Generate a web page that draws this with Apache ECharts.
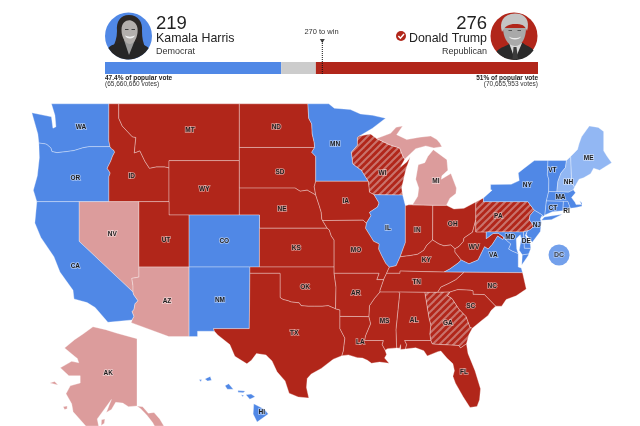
<!DOCTYPE html>
<html><head><meta charset="utf-8">
<style>html,body{margin:0;padding:0;background:#fff;overflow:hidden}#c{width:640px;height:426px}</style>
<script src="https://cdn.jsdelivr.net/npm/echarts@6/dist/echarts.min.js"></script>
</head><body><div id="c"></div>
<script>
// ---- values ----
const CANDIDATES = ['Kamala Harris', 'Donald Trump'];
const PARTIES = ['Democrat', 'Republican'];
const ELECTORAL = [219, 276];
const TOTAL_VOTES = 538;
const TO_WIN = 270;
const POPULAR_PCT = ['47.4% of popular vote', '51% of popular vote'];
const POPULAR_VOTES = ['(65,660,660 votes)', '(70,665,953 votes)'];

const REP_WON = ['MT','ID','WY','UT','ND','SD','NE','KS','OK','TX','IA','MO','AR','LA','MS','AL','TN','KY','IN','OH','WV','NC','SC','FL'];
const REP_LEADING = ['NV','AZ','MI','AK'];
const REP_FLIPPED = ['WI','PA','GA'];
const DEM_WON = ['WA','OR','CA','CO','NM','MN','IL','NY','VT','MA','CT','RI','NJ','DE','MD','VA','HI'];
const DEM_LEADING = ['ME','NH'];
const DC_BUBBLE = [-72.24, 37.94];

const COL = {dem:'#5088E6', demLight:'#92B7F3', rep:'#B1261A', repLight:'#DC9C9C', none:'#CCCCCC'};

// label anchor [lon, lat]
const LABEL_AT = {WA:[-119.8,47.36],OR:[-120.37,43.7],ID:[-114.76,43.87],MT:[-108.96,47.15],WY:[-107.54,42.92],ND:[-100.37,47.4],SD:[-100,44.15],NE:[-99.8,41.47],NV:[-116.69,39.53],UT:[-111.35,39.05],CO:[-105.55,38.97],KS:[-98.38,38.46],CA:[-120.37,37.03],AZ:[-111.25,34.3],NM:[-105.98,34.35],OK:[-97.5,35.4],TX:[-98.6,31.65],AK:[-151.1,64.84],HI:[-155.5,19.6],MN:[-94.53,46.2],WI:[-89.8,44.1],IA:[-93.47,42],IL:[-89.26,40],IN:[-86.34,39.87],OH:[-82.82,40.3],MI:[-84.5,43.5],MO:[-92.44,38.3],KY:[-85.45,37.55],WV:[-80.7,38.57],VA:[-78.78,37.94],PA:[-78.28,40.92],NY:[-75.4,43.2],VT:[-72.9,44.3],NH:[-71.3,43.4],ME:[-69.3,45.2],MA:[-72.1,42.3],CT:[-72.85,41.5],RI:[-71.5,41.3],NJ:[-74.45,40.2],DE:[-75.5,39],MD:[-77.1,39.35],TN:[-86.4,35.8],NC:[-78.88,35.45],SC:[-81.03,33.85],GA:[-83.3,32.45],AL:[-86.67,32.7],MS:[-89.6,32.6],LA:[-92,30.85],AR:[-92.47,34.9],FL:[-81.7,28.28]};

// ---- state outlines as shared lon/lat borders ----
const B = {
WA_N:'-122.75,49 -117.03,49',
WA_ID:'-117.03,49 -117.04,46.42 -116.92,46',
WA_OR:'-116.92,46 -118.98,46 -119,45.93 -119.6,45.92 -120.5,45.72 -121.2,45.65 -122.2,45.57 -122.7,45.65 -122.8,45.9 -123.2,46.15 -123.4,46.2 -124,46.25',
WA_C:'-124,46.25 -124.1,46.9 -124.7,48.38 -123.1,48.15 -122.75,48.1 -122.6,47.3 -122.3,47.4 -122.4,48.2 -122.75,49',
OR_C:'-124,46.25 -123.95,45.2 -124.15,43.9 -124.55,42.85 -124.2,42',
OR_CA:'-124.2,42 -120,42',
OR_NV:'-120,42 -117.03,42',
OR_ID:'-117.03,42 -117.03,43.83 -116.9,44.1 -117.2,44.45 -116.85,44.95 -116.67,45.32 -116.46,45.6 -116.55,45.75 -116.78,45.85 -116.92,46',
ID_N:'-117.03,49 -116.05,49',
ID_MT:'-116.05,49 -116.05,48 -115.7,47.45 -114.7,46.7 -114.35,46.65 -114.5,45.55 -113.95,45.7 -113.45,44.95 -113,44.45 -112.3,44.55 -111.5,44.55 -111.05,44.48',
ID_WY:'-111.05,44.48 -111.05,42',
ID_UT:'-111.05,42 -114.04,42',
ID_NV:'-114.04,42 -117.03,42',
MT_N:'-116.05,49 -104.05,49',
MT_ND:'-104.05,49 -104.05,45.94',
MT_SD:'-104.05,45.94 -104.05,45',
MT_WY:'-104.05,45 -111.05,45 -111.05,44.48',
ND_N:'-104.05,49 -97.23,49',
ND_MN:'-97.23,49 -97.15,48 -96.85,47.6 -96.8,46.9 -96.6,46.3 -96.56,45.94',
ND_SD:'-96.56,45.94 -104.05,45.94',
SD_MN:'-96.56,45.94 -96.85,45.6 -96.45,45.3 -96.45,43.5',
SD_IA:'-96.45,43.5 -96.6,43.1 -96.45,42.49',
SD_NE:'-96.45,42.49 -97.3,42.85 -98,42.77 -98.5,43 -104.05,43',
SD_WY:'-104.05,43 -104.05,45',
WY_UT:'-111.05,42 -111.05,41 -109.05,41',
WY_CO:'-109.05,41 -104.05,41',
WY_NE:'-104.05,41 -104.05,43',
NE_IA:'-96.45,42.49 -96.1,41.7 -95.9,41.2 -95.85,40.7 -95.77,40.58',
NE_MO:'-95.77,40.58 -95.31,40',
NE_KS:'-95.31,40 -102.05,40',
NE_CO:'-102.05,40 -102.05,41 -104.05,41',
MN_IA:'-96.45,43.5 -91.22,43.5',
IA_WI:'-91.22,43.5 -91.1,42.7 -90.64,42.51',
IA_IL:'-90.64,42.51 -90.15,41.9 -90.3,41.6 -91.1,41.2 -90.95,40.95 -91.42,40.38',
IA_MO:'-91.42,40.38 -91.73,40.61 -95.77,40.58',
MN_N:'-97.23,49 -95.15,49 -94.6,48.7 -93,48.6 -92,48.3 -90.8,48.2 -89.5,48 -90.8,47.3 -92.1,46.75',
MN_WI:'-92.1,46.75 -92.3,46.65 -92.3,46.1 -92.9,45.6 -92.75,44.75 -91.9,44.3 -91.22,43.5',
WI_N:'-92.1,46.75 -91,46.9 -90.4,46.57',
WI_MI:'-90.4,46.57 -89.1,46.13 -88.1,45.9 -87.8,45.35 -87.6,45.1',
WI_C:'-87.6,45.1 -88,44.55 -87.4,44.9 -87.05,45.25 -87.5,44.3 -87.9,43 -87.8,42.49',
WI_IL:'-87.8,42.49 -90.64,42.51',
IL_C:'-87.8,42.49 -87.53,41.7',
IL_IN:'-87.53,41.7 -87.53,38.9 -88.05,37.8',
IL_KY:'-88.05,37.8 -88.45,37.1 -89.13,36.98',
IL_MO:'-89.13,36.98 -89.5,37.3 -89.9,37.9 -90.2,38.4 -90.15,38.8 -90.7,39 -91.5,40 -91.42,40.38',
IN_C:'-87.53,41.7 -87.2,41.76 -86.82,41.76',
IN_MI:'-86.82,41.76 -84.8,41.73',
IN_OH:'-84.8,41.73 -84.82,39.1',
IN_KY:'-84.82,39.1 -85.4,38.7 -85.7,38.3 -86.3,38 -87,37.9 -88.05,37.8',
OH_MI:'-84.8,41.73 -83.45,41.73',
OH_C:'-83.45,41.73 -82.7,41.45 -81.7,41.5 -80.52,41.98',
OH_PA:'-80.52,41.98 -80.52,40.64',
OH_WV:'-80.52,40.64 -80.85,39.7 -81.7,39.25 -81.75,39 -82.2,38.6 -82.59,38.42',
OH_KY:'-82.59,38.42 -83,38.72 -83.7,38.65 -84.2,38.8 -84.82,39.1',
KY_MO:'-89.13,36.98 -89.4,36.5',
KY_TN:'-89.4,36.5 -88.06,36.5 -88.06,36.68 -83.68,36.6',
KY_VA:'-83.68,36.6 -83.1,36.85 -82.3,37.3 -81.97,37.54',
KY_WV:'-81.97,37.54 -82.6,38.17 -82.59,38.42',
MO_TN:'-89.4,36.5 -89.7,36',
MO_AR:'-89.7,36 -90.38,36 -90.15,36.5 -94.62,36.5',
MO_OK:'-94.62,36.5 -94.62,37',
MO_KS:'-94.62,37 -94.62,39.1 -94.9,39.4 -95.1,39.87 -95.31,40',
KS_OK:'-94.62,37 -102.05,37',
KS_CO:'-102.05,37 -102.05,40',
CO_UT:'-109.05,41 -109.05,37',
CO_NM:'-109.05,37 -103,37',
CO_OK:'-103,37 -102.05,37',
NV_UT:'-114.04,42 -114.04,37',
UT_AZ:'-114.04,37 -109.05,37',
NV_AZ:'-114.04,37 -114.04,36.2 -114.75,36.1 -114.63,35.5 -114.63,35',
NV_CA:'-114.63,35 -120,39 -120,42',
CA_AZ:'-114.63,35 -114.57,34.8 -114.14,34.3 -114.43,34.05 -114.53,33.6 -114.72,33.4 -114.53,33.03 -114.72,32.72',
CA_MX:'-114.72,32.72 -117.13,32.53',
CA_C:'-117.13,32.53 -118.4,33.75 -119.2,34.15 -120.5,34.45 -120.6,35.15 -121.9,36.6 -122.5,37.8 -123.8,39.3 -124.4,40.4 -124.2,42',
AZ_MX:'-114.72,32.72 -114.81,32.5 -111.07,31.33 -109.05,31.33',
AZ_NM:'-109.05,31.33 -109.05,37',
NM_MX:'-109.05,31.33 -108.21,31.33 -108.21,31.78 -106.53,31.78',
NM_TX:'-106.53,31.78 -106.62,32 -103.06,32 -103,36.5',
NM_OK:'-103,36.5 -103,37',
OK_AR:'-94.62,36.5 -94.43,35.4 -94.48,33.64',
OK_TX:'-94.48,33.64 -95.2,33.9 -95.8,33.85 -96.6,33.85 -97.2,33.85 -97.9,33.9 -98.1,34.13 -98.9,34.2 -99.2,34.3 -99.7,34.4 -100,34.56 -100,36.5 -103,36.5',
TX_MX:'-106.53,31.78 -106.2,31.47 -105,30.65 -104.5,29.65 -103.3,29 -102.85,29.3 -102.35,29.88 -101.4,29.77 -100.8,29.25 -100.3,28.3 -99.5,27.5 -99.1,26.4 -98.2,26.06 -97.14,25.96',
TX_C:'-97.14,25.96 -97.37,26.9 -97.3,27.7 -96.9,28.1 -95.9,28.6 -95,29.2 -94.7,29.4 -93.85,29.7',
TX_LA:'-93.85,29.7 -93.7,30.1 -93.55,31.2 -94.04,32 -94.04,33.02',
TX_AR:'-94.04,33.02 -94.04,33.55 -94.48,33.64',
AR_TN:'-89.7,36 -90.07,35.13 -90.07,35',
AR_MS:'-90.07,35 -90.6,34.5 -91.1,33.9 -91.17,33',
AR_LA:'-91.17,33 -94.04,33.02',
LA_MS:'-91.17,33 -91,32.4 -91.5,31.4 -91.6,31 -89.73,31 -89.85,30.65 -89.55,30.18',
LA_C:'-89.55,30.18 -89.4,29.8 -89.6,29.5 -89.15,29.05 -90.1,29.15 -90.9,29.05 -91.3,29.3 -91.8,29.5 -92.3,29.53 -93.2,29.77 -93.85,29.7',
MS_TN:'-90.07,35 -88.2,35',
MS_AL:'-88.2,35 -88.1,34.9 -88.47,31.9 -88.4,30.37',
MS_C:'-88.4,30.37 -89.3,30.3 -89.55,30.18',
AL_TN:'-88.2,35 -85.6,34.98',
AL_GA:'-85.6,34.98 -85.18,32.87 -85,32.3 -85.1,31.55 -85,31',
AL_FL:'-85,31 -87.6,31 -87.4,30.65 -87.52,30.28',
AL_C:'-87.52,30.28 -88,30.23 -88,30.65 -88.1,30.35 -88.4,30.37',
TN_VA:'-83.68,36.6 -81.68,36.59',
TN_NC:'-81.68,36.59 -82.5,36 -83.2,35.7 -84,35.4 -84.32,34.98',
TN_GA:'-84.32,34.98 -85.6,34.98',
GA_NC:'-84.32,34.98 -83.11,35',
GA_SC:'-83.11,35 -83.35,34.7 -82.9,34.48 -82.2,33.6 -81.5,33 -81.1,32.1 -80.87,32.03',
GA_C:'-80.87,32.03 -81.2,31.5 -81.45,30.72',
GA_FL:'-81.45,30.72 -82.05,30.36 -82.2,30.57 -84.86,30.7 -85,31',
FL_C:'-81.45,30.72 -81.3,29.9 -80.6,28.4 -80.05,26.8 -80.15,25.8 -80.4,25.2 -81.1,25.1 -81.8,26.1 -82.55,27.3 -82.8,27.9 -82.65,28.4 -82.8,29 -83.4,29.5 -84,30.1 -84.3,30.05 -85.35,29.68 -85.7,30.13 -86.5,30.38 -87.52,30.28',
SC_NC:'-83.11,35 -82.3,35.2 -81.05,35.15 -80.8,35.1 -80.8,34.82 -79.67,34.8 -78.55,33.86',
SC_C:'-78.55,33.86 -79,33.5 -79.3,33.1 -79.9,32.7 -80.87,32.03',
NC_VA:'-81.68,36.59 -75.87,36.55',
NC_C:'-75.87,36.55 -75.5,35.25 -76.5,34.7 -77.5,34.4 -77.95,33.85 -78.55,33.86',
VA_C:'-75.87,36.55 -76,36.93 -76.3,37 -76.3,37.6 -76.3,38.05',
VA_MD:'-76.3,38.05 -76.9,38.25 -77.25,38.4 -77.04,38.8 -77.5,39.1 -77.73,39.32',
VA_WV:'-77.73,39.32 -77.83,39.13 -78.35,39.4 -78.87,38.77 -79.3,38.4 -79.65,38.58 -80.3,37.55 -81.2,37.25 -81.97,37.54',
WV_PA:'-80.52,40.64 -80.52,39.72',
WV_PA2:'-80.52,39.72 -79.48,39.72',
WV_MD:'-79.48,39.72 -79.48,39.2 -78.8,39.6 -78.3,39.62 -77.73,39.32',
MD_PA:'-79.48,39.72 -75.79,39.72',
MD_DE:'-75.79,39.72 -75.7,38.46 -75.05,38.45',
MD_C:'-75.05,38.45 -75.25,38.03 -75.9,37.95 -76.2,38.3 -76,39.2 -76.1,39.5 -76.5,39.2 -76.45,38.4 -76.3,38.05',
DE_PA:'-75.79,39.72 -75.4,39.8',
DE_C:'-75.4,39.8 -75.6,39.45 -75.1,38.8 -75.05,38.45',
PA_C:'-80.52,41.98 -79.76,42.27',
PA_NY:'-79.76,42.27 -79.76,42 -75.35,42 -74.7,41.36',
PA_NJ:'-74.7,41.36 -75.13,40.97 -75.2,40.65 -74.72,40.15 -75.13,39.88 -75.4,39.8',
NJ_NY:'-74.7,41.36 -73.9,41',
NJ_C:'-73.9,41 -74.1,40.7 -74,40.45 -74.1,39.75 -74.9,38.93 -75.5,39.5 -75.4,39.8',
NY_N:'-79.76,42.27 -78.9,42.85 -79.05,42.9 -79.05,43.26 -77,43.28 -76.2,43.55 -76.3,44.1 -75.8,44.4 -74.7,45 -73.34,45.01',
NY_VT:'-73.34,45.01 -73.4,44 -73.25,43.6 -73.27,42.75',
NY_MA:'-73.27,42.75 -73.5,42.05',
NY_CT:'-73.5,42.05 -73.65,41',
NY_C:'-73.65,41 -73.9,40.85 -73.9,41',
VT_N:'-73.34,45.01 -71.5,45.01',
VT_NH:'-71.5,45.01 -71.6,44.5 -72.05,44.1 -72.35,43.5 -72.46,42.73',
VT_MA:'-72.46,42.73 -73.27,42.75',
NH_N:'-71.5,45.01 -71.08,45.3',
NH_ME:'-71.08,45.3 -70.98,43.4 -70.7,43.07',
NH_C:'-70.7,43.07 -70.82,42.87',
NH_MA:'-70.82,42.87 -71.3,42.7 -72.46,42.73',
ME_C:'-71.08,45.3 -70.4,45.8 -70.25,46.2 -70,46.7 -69.23,47.46 -68.33,47.36 -67.8,47.07 -67.8,45.7 -67.45,45.3 -67,44.85 -68.2,44.3 -68.8,44.45 -69.1,44.05 -69.8,43.75 -70.25,43.65 -70.7,43.07',
MA_C:'-70.82,42.87 -70.6,42.65 -71,42.3 -70.65,41.95 -70.55,41.78 -70,41.78 -70.2,42.07 -69.95,41.9 -69.97,41.65 -70.65,41.55 -71.12,41.5',
MA_RI:'-71.12,41.5 -71.38,42.02 -71.8,42.02',
MA_CT:'-71.8,42.02 -73.5,42.05',
RI_C:'-71.12,41.5 -71.4,41.45 -71.86,41.32',
RI_CT:'-71.86,41.32 -71.8,42.02',
CT_C:'-71.86,41.32 -72.9,41.25 -73.65,41'
};
const RINGS = {
WA:['WA_N','WA_ID','WA_OR','WA_C'],
OR:['OR_C','OR_CA','OR_NV','OR_ID','WA_OR'],
ID:['ID_N','ID_MT','ID_WY','ID_UT','ID_NV','OR_ID','-WA_ID'],
MT:['MT_N','MT_ND','MT_SD','MT_WY','-ID_MT'],
ND:['ND_N','ND_MN','ND_SD','-MT_ND'],
SD:['-ND_SD','SD_MN','SD_IA','SD_NE','SD_WY','-MT_SD'],
WY:['MT_WY','ID_WY','WY_UT','WY_CO','WY_NE','SD_WY'],
NE:['-SD_NE','NE_IA','NE_MO','NE_KS','NE_CO','WY_NE'],
IA:['MN_IA','IA_WI','IA_IL','IA_MO','-NE_IA','-SD_IA'],
MN:['MN_N','MN_WI','-MN_IA','-SD_MN','-ND_MN'],
WI:['WI_N','WI_MI','WI_C','WI_IL','-IA_WI','-MN_WI'],
IL:['-WI_IL','IL_C','IL_IN','IL_KY','IL_MO','-IA_IL'],
IN:['IN_C','IN_MI','IN_OH','IN_KY','-IL_IN'],
OH:['OH_MI','OH_C','OH_PA','OH_WV','OH_KY','-IN_OH'],
KY:['OH_KY','IN_KY','IL_KY','KY_MO','KY_TN','KY_VA','KY_WV'],
MO:['-IA_MO','-IL_MO','KY_MO','MO_TN','MO_AR','MO_OK','MO_KS','-NE_MO'],
KS:['-NE_KS','-MO_KS','KS_OK','KS_CO'],
CO:['-WY_CO','CO_UT','CO_NM','CO_OK','KS_CO','NE_CO'],
UT:['ID_UT','NV_UT','UT_AZ','-CO_UT','-WY_UT'],
NV:['-ID_NV','NV_UT','NV_AZ','NV_CA','OR_NV'],
CA:['OR_CA','-NV_CA','CA_AZ','CA_MX','CA_C'],
AZ:['-UT_AZ','NV_AZ','CA_AZ','AZ_MX','AZ_NM'],
NM:['-AZ_NM','NM_MX','NM_TX','NM_OK','-CO_NM'],
OK:['CO_OK','-KS_OK','-MO_OK','OK_AR','OK_TX','NM_OK'],
TX:['-NM_TX','TX_MX','TX_C','TX_LA','TX_AR','OK_TX'],
AR:['-MO_AR','AR_TN','AR_MS','AR_LA','TX_AR','-OK_AR'],
LA:['-AR_LA','LA_MS','LA_C','TX_LA'],
MS:['-AR_MS','MS_TN','MS_AL','MS_C','-LA_MS'],
AL:['AL_TN','AL_GA','AL_FL','AL_C','-MS_AL'],
TN:['KY_TN','TN_VA','TN_NC','TN_GA','-AL_TN','-MS_TN','-AR_TN','-MO_TN'],
GA:['-TN_GA','GA_NC','GA_SC','GA_C','GA_FL','-AL_GA'],
FL:['-GA_FL','FL_C','-AL_FL'],
SC:['-GA_SC','SC_NC','SC_C'],
NC:['-GA_NC','-TN_NC','NC_VA','NC_C','-SC_NC'],
VA:['TN_VA','NC_VA','VA_C','VA_MD','VA_WV','-KY_VA'],
WV:['WV_PA','WV_PA2','WV_MD','VA_WV','KY_WV','-OH_WV'],
MD:['MD_PA','MD_DE','MD_C','VA_MD','-WV_MD'],
DE:['DE_PA','DE_C','-MD_DE'],
PA:['PA_C','PA_NY','PA_NJ','-DE_PA','-MD_PA','-WV_PA2','-WV_PA','-OH_PA'],
NJ:['-PA_NJ','NJ_NY','NJ_C'],
NY:['-PA_NY','NY_N','NY_VT','NY_MA','NY_CT','NY_C','-NJ_NY'],
VT:['VT_N','VT_NH','VT_MA','-NY_VT'],
NH:['-VT_NH','NH_N','NH_ME','NH_C','NH_MA'],
ME:['ME_C','-NH_ME'],
MA:['-NH_MA','MA_C','MA_RI','MA_CT','-NY_MA','-VT_MA'],
RI:['-MA_RI','RI_C','RI_CT'],
CT:['-MA_CT','-RI_CT','CT_C','-NY_CT']
};
// Michigan's two peninsulas, islands, Alaska and Hawaii are free-standing rings
const EXTRA = {
MI:['-83.45,41.73 -83.1,42.25 -82.5,42.6 -82.45,43 -83,44.07 -83.95,43.65 -83.9,43.9 -83.3,44.3 -83.4,45.07 -84.75,45.78 -85.3,45.3 -85.6,44.85 -86.25,44.7 -86.5,43.65 -86.2,43 -86.3,42.4 -86.82,41.76 -84.8,41.73',
    '-90.4,46.57 -89,46.95 -88.45,47.37 -87.8,47.45 -88.4,46.85 -87.4,46.5 -86.1,46.67 -85,46.75 -84.4,46.5 -84.1,46.25 -83.9,46 -84.7,45.9 -85.5,46.05 -86.5,45.85 -87.6,45.1 -87.8,45.35 -88.1,45.9 -89.1,46.13'],
NY:['-74,40.6 -73,40.65 -71.9,41.05 -72.6,40.98 -73.7,40.85'],
VA:['-75.95,37.15 -75.3,37.9 -75.25,38.03 -75.9,37.95'],
AK:['-141,69.65 -148,70.4 -152,70.9 -156.5,71.3 -160,70.3 -163,69.5 -166.5,68.35 -163,67.2 -162,66.9 -161.5,66.3 -164,66.5 -168,65.6 -165,64.5 -161,64.5 -161,63.5 -164.5,63.1 -166,62 -164,60.6 -163.5,59.5 -159,57.5 -154.5,57.5 -155,58.5 -150,61.2 -151.8,59.4 -150,59.8 -148.5,60.8 -146,60.7 -144,60.2 -141,60.3 -139.7,59.9 -137.5,59 -135.5,58 -134.8,57.5 -131.5,57.5 -133,58.5 -135,59.4 -137,59.3 -139,60.2 -141,60.3',
    '-171.7,63.5 -168.8,63.2 -170,63.7','-167,60.2 -165.6,60.3 -165.6,59.9 -166.5,59.8','-153.5,58.4 -152.3,58.5 -152.5,57.9 -153.6,57.6'],
HI:['-156.1,20.25 -155.3,19.85 -155,19.5 -155.85,18.92 -156.15,19.5','-156.7,20.9 -156.3,20.95 -156,20.75 -156.4,20.58','-157.3,21.2 -156.75,21.17 -156.9,21.05 -157.3,21.08','-157.05,20.9 -156.85,20.85 -156.95,20.75','-158.28,21.55 -158,21.7 -157.65,21.3 -158.1,21.3','-159.8,22.05 -159.4,22.23 -159.3,21.95 -159.6,21.9','-160.25,21.98 -160.05,22 -160.1,21.85']
};

const parse = s => s.trim().split(/\s+/).map(t => t.split(',').map(Number));
const ring = toks => { const out = []; toks.forEach(t => { const rev = t[0] === '-'; const a = parse(B[rev ? t.slice(1) : t]); if (rev) a.reverse(); out.push(...a); }); out.push(out[0].slice()); return out; };
const closed = s => { const a = parse(s); a.push(a[0].slice()); return a; };
const ALL = Object.keys(LABEL_AT);
const features = ALL.map(code => {
  const polys = [];
  if (RINGS[code]) polys.push([ring(RINGS[code])]);
  (EXTRA[code] || []).forEach(s => polys.push([closed(s)]));
  return {type:'Feature', properties:{name:code, cp:LABEL_AT[code]}, geometry:{type:'MultiPolygon', coordinates:polys}};
});
echarts.registerMap('USA', {type:'FeatureCollection', features});

// Lower 48 on the reference's near-cylindrical scale; Alaska and Hawaii as insets
const project = ([lon, lat]) => {
  if (lat > 50) return [137 + 2.84 * (lon + 141), 339 + 7.2 * (69.6 - lat)];
  if (lat < 24 && lon < -150) return [261.7 + 13.2 * (lon + 155.5), 412.7 + 13.8 * (19.6 - lat)];
  const d = lat - 39;
  return [169 + 10.05 * (lon + 111.05), 241.3 - (13 * d + 0.075 * d * d)];
};
const unproject = ([x, y]) => [(x - 169) / 10.05 - 111.05, 39 + (241.3 - y) / 13];
let x0 = 1e9, x1 = -1e9, y0 = 1e9, y1 = -1e9;
features.forEach(f => f.geometry.coordinates.forEach(p => p[0].forEach(c => { const [x, y] = project(c); x0 = Math.min(x0, x); x1 = Math.max(x1, x); y0 = Math.min(y0, y); y1 = Math.max(y1, y); })));

// hatch for states flipped to the Republicans
const tile = document.createElement('canvas'); tile.width = tile.height = 7;
(() => { const g = tile.getContext('2d'); g.fillStyle = COL.rep; g.fillRect(0,0,7,7); g.strokeStyle = '#C9736C'; g.lineWidth = 2; [[-3.5,3.5,3.5,-3.5],[0,7,7,0],[3.5,10.5,10.5,3.5]].forEach(l => { g.beginPath(); g.moveTo(l[0],l[1]); g.lineTo(l[2],l[3]); g.stroke(); }); })();

const fillFor = c => REP_WON.includes(c) ? COL.rep : REP_LEADING.includes(c) ? COL.repLight : REP_FLIPPED.includes(c) ? {image: tile, repeat: 'repeat'} : DEM_LEADING.includes(c) ? COL.demLight : COL.dem;
const LABEL = {show:true, fontFamily:'"Liberation Sans"', fontSize:6.5, fontWeight:'bold', color:'#1c1c1c', textBorderColor:'rgba(255,255,255,.5)', textBorderWidth:1.6};
const regions = ALL.map(code => ({name:code, itemStyle:{areaColor:fillFor(code), borderColor:'rgba(255,255,255,.55)', borderWidth:.6}, label:LABEL}));

const F = '"Liberation Sans"';
const txt = (x, y, t, size, align, weight, color) => ({type:'text', silent:true, style:{x, y:y + 0.21 * size, text:t, font:`${weight||'normal'} ${size}px ${F}`, fill:color||'#222', align:align||'left', verticalAlign:'bottom', lineHeight:size}});
let pathNo = 0;
const shape = (d, fill) => { const name = 'portrait' + (pathNo++); echarts.graphic.registerShape(name, echarts.graphic.extendPath(d, {})); return {type:name, silent:true, style:{fill}}; };
const disc = (cx, cy, r, fill) => ({type:'circle', silent:true, shape:{cx, cy, r}, style:{fill}});

const option = {
  animation:false, backgroundColor:'#fff',
  geo:{map:'USA', roam:false, silent:true, projection:{project, unproject},
       layoutCenter:[(x0+x1)/2,(y0+y1)/2], layoutSize:Math.max(x1-x0,y1-y0),
       itemStyle:{areaColor:COL.dem, borderColor:'rgba(255,255,255,.55)', borderWidth:.6}, label:LABEL, regions},
  grid:[{left:105,width:433,top:62,height:12},{left:105,width:433,top:41,height:33}],
  xAxis:[{type:'value',min:0,max:TOTAL_VOTES,show:false,gridIndex:0},{type:'value',min:0,max:TOTAL_VOTES,show:false,gridIndex:1}],
  yAxis:[{type:'category',data:['votes'],show:false,gridIndex:0},{type:'value',min:0,max:1,show:false,gridIndex:1}],
  series:[
    {type:'bar',stack:'v',barWidth:'100%',data:[ELECTORAL[0]],itemStyle:{color:COL.dem},silent:true},
    {type:'bar',stack:'v',barWidth:'100%',data:[TOTAL_VOTES-ELECTORAL[0]-ELECTORAL[1]],itemStyle:{color:COL.none},silent:true},
    {type:'bar',stack:'v',barWidth:'100%',data:[ELECTORAL[1]],itemStyle:{color:COL.rep},silent:true},
    {type:'line',xAxisIndex:1,yAxisIndex:1,data:[[TO_WIN,1],[TO_WIN,0]],symbol:'none',lineStyle:{color:'#111',width:1,type:[1,1]},z:5,silent:true},
    {type:'scatter',xAxisIndex:1,yAxisIndex:1,data:[[TO_WIN,1]],symbol:'triangle',symbolRotate:180,symbolSize:[5,4],itemStyle:{color:'#111'},z:6,silent:true},
    {type:'scatter',coordinateSystem:'geo',data:[{name:'DC',value:DC_BUBBLE}],symbol:'circle',symbolSize:21,itemStyle:{color:COL.dem},silent:true,z:4,
     label:Object.assign({},LABEL,{show:true,position:'inside',formatter:'{b}',fontSize:7})}
  ],
  graphic:{elements:[
    // Harris portrait
    disc(128.5,36,23.5,COL.dem),
    shape('M129 15C120 15 116 22 117 31C117 38 115 43 112 49L146 49C143 43 142 38 142 31C143 22 138 15 129 15Z','#2b2725'),
    shape('M108.3 48C112 43 120 44 124 41L135 41C138 44 145 44 148.7 48A23.5 23.5 0 0 1 108.3 48Z','#262626'),
    shape('M124 40L129 55L135 40Z','#9a9a9a'),
    shape('M121.5 30C121.5 22 127 19.5 131 20.5C136 22 138.5 27 137.5 33C136.5 40 133 44 130 44C126 44 121.5 38 121.5 30Z','#b3afac'),
    shape('M125 35.5C128 37 132 37 135 35.5C133.5 39.5 126.5 39.5 125 35.5Z','#f0f0f0'),
    shape('M125 29H128.5V30H125ZM131.5 29H135V30H131.5Z','#444'),
    // Trump portrait
    disc(514,36,23.5,COL.rep),
    shape('M496.5 51.5C500 47 508 46 510 43L523 43C526 46 532 47 533.5 50.5A23.5 23.5 0 0 1 496.5 51.5Z','#2a2a2a'),
    shape('M509 43L515 59.5L522 43Z','#d8d8d8'),
    shape('M513.5 47L516.5 47L518 59L512.5 59Z','#3b3b3b'),
    shape('M503 28C503 36 507 46 515 46C522 46 526 38 526 28Z','#a9a9a9'),
    shape('M502 32C499 22 503 14 515 13.5C526 13.5 530 21 527 31C525 25 522 24 515 24C509 24 505 26 502 32Z','#c4c4c4'),
    shape('M509 36.5C512 38.5 518 38.5 521 36.5C520 40.5 510 40.5 509 36.5Z','#ececec'),
    shape('M508.5 30H512V31H508.5ZM517.5 30H521V31H517.5Z','#555'),
    // texts
    txt(156,29,String(ELECTORAL[0]),18.5),
    txt(156,42,CANDIDATES[0],12.4),
    txt(156,54.5,PARTIES[0],9,'left','normal','#333'),
    txt(487,29,String(ELECTORAL[1]),18.5,'right'),
    txt(487,42,CANDIDATES[1],12.4,'right'),
    txt(487,54.5,PARTIES[1],9,'right','normal','#333'),
    disc(401,36,5,COL.rep),
    {type:'polyline',silent:true,shape:{points:[[398.4,36],[400.4,38.2],[404,34]]},style:{stroke:'#fff',lineWidth:1.5,fill:null}},
    txt(321.5,34,'270 to win',7.5,'center','normal','#333'),
    txt(105,80,POPULAR_PCT[0],6.5,'left','bold','#222'),
    txt(105,86,POPULAR_VOTES[0],6.5,'left','normal','#333'),
    txt(538,80,POPULAR_PCT[1],6.5,'right','bold','#222'),
    txt(538,86,POPULAR_VOTES[1],6.5,'right','normal','#333')
  ]}
};
echarts.init(document.getElementById('c'),null,{renderer:'canvas'}).setOption(option);
</script>
</body></html>
